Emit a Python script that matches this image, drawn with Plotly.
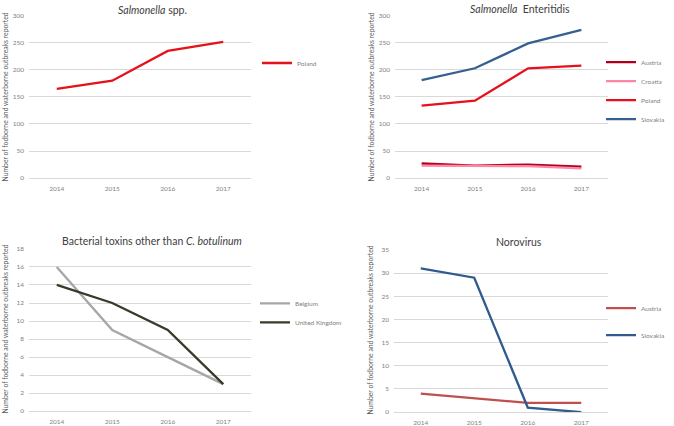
import plotly.graph_objects as go

years = ["2014", "2015", "2016", "2017"]

# Salmonella spp.
spp_poland = [165, 180, 235, 252]

# Salmonella Enteritidis
ent_austria = [27, 23, 25, 21]
ent_croatia = [23, 23, 22, 18]
ent_poland = [134, 143, 203, 208]
ent_slovakia = [181, 203, 249, 274]

# Bacterial toxins other than C. botulinum
tox_belgium = [16, 9, 6, 3]
tox_uk = [14, 12, 9, 3]

# Norovirus
noro_austria = [4, 3, 2, 2]
noro_slovakia = [31, 29, 1, 0]

titles = ["<i>Salmonella</i> spp.", "<i>Salmonella</i>  Enteritidis",
          "Bacterial toxins other than <i>C. botulinum</i>", "Norovirus"]
ytitle = "Number of fodborne and waterborne outbreaks reported"

W, H = 674, 426
FONT = "Lato, Liberation Sans, sans-serif"


def px(x):
    return x / W


def py(y):
    return 1 - y / H


fig = go.Figure()

# (axis suffix, legend name, series list)
panels = [
    ("", "legend", [("Poland", spp_poland, "#E5121B")]),
    ("2", "legend2", [("Austria", ent_austria, "#B0001E"),
                      ("Croatia", ent_croatia, "#FF85A6"),
                      ("Poland", ent_poland, "#E5121B"),
                      ("Slovakia", ent_slovakia, "#36608F")]),
    ("3", "legend3", [("Belgium", tox_belgium, "#A6A6A6"),
                      ("United Kingdom", tox_uk, "#3A3A28")]),
    ("4", "legend4", [("Austria", noro_austria, "#C0504D"),
                      ("Slovakia", noro_slovakia, "#2F5B8E")]),
]

for ax, leg, series in panels:
    for name, vals, color in series:
        fig.add_trace(go.Scatter(
            x=years, y=vals, name=name, mode="lines",
            line=dict(color=color, width=2.3),
            xaxis="x" + ax, yaxis="y" + ax, showlegend=True,
            legend=leg, legendgroup=leg + name,
        ))

# plot area boxes in pixels: (left, right, top, bottom)
boxes = [(29, 251, 12, 177), (395, 608, 12, 177),
         (29, 251, 249, 414), (394, 608, 250, 415)]
yranges = [(300, 50), (300, 50), (18, 2), (35, 5)]

tickfont = dict(family=FONT, size=6.5, color="#7F7F7F")
layout = dict(
    width=W, height=H, margin=dict(l=0, r=0, t=0, b=0),
    paper_bgcolor="white", plot_bgcolor="white",
    font=dict(family=FONT),
)
for i, ((l, r, t, b), (ymax, dt)) in enumerate(zip(boxes, yranges)):
    s = "" if i == 0 else str(i + 1)
    layout["xaxis" + s] = dict(
        domain=[px(l), px(r)], anchor="y" + s, type="category",
        range=[-0.5, 3.5], showgrid=False, showline=True,
        linecolor="#D9D9D9", linewidth=1, ticks="", tickfont=tickfont,
        ticklabelstandoff=4, fixedrange=True,
    )
    layout["yaxis" + s] = dict(
        domain=[py(b), py(t)], anchor="x" + s, range=[0, ymax], dtick=dt,
        showgrid=True, gridcolor="#D9D9D9", gridwidth=1, zeroline=False,
        showline=False, ticks="", tickfont=tickfont, ticklabelstandoff=4,
        fixedrange=True,
    )

legfont = dict(family=FONT, size=6.5, color="#7F7F7F")
leg_pos = [(257, 60, 0), (601, 88, 0), (255, 314, 0), (601, 323, 8)]
for i, (lx, ly, gap) in enumerate(leg_pos):
    s = "legend" if i == 0 else "legend" + str(i + 1)
    layout[s] = dict(
        x=px(lx), y=py(ly), xanchor="left", yanchor="middle",
        font=legfont, bgcolor="rgba(0,0,0,0)", borderwidth=0,
        tracegroupgap=gap, itemclick=False, itemdoubleclick=False,
    )

annotations = []
title_pos = [(152, 6), (520, 5), (152, 241), (519, 242)]
for text, (tx, ty) in zip(titles, title_pos):
    annotations.append(dict(
        text=text, x=px(tx), y=py(ty), xref="paper", yref="paper",
        showarrow=False, font=dict(family=FONT, size=10.5, color="#404040"),
        xanchor="center", yanchor="middle",
    ))
ytitle_pos = [(5, 95), (371, 95), (5, 331), (370, 332)]
for tx, ty in ytitle_pos:
    annotations.append(dict(
        text=ytitle, x=px(tx), y=py(ty), xref="paper", yref="paper",
        showarrow=False, textangle=-90,
        font=dict(family=FONT, size=6.8, color="#595959"),
        xanchor="center", yanchor="middle",
    ))
layout["annotations"] = annotations

fig.update_layout(**layout)
# the page's default body margin would push the chart off by 8px
fig.write_html("out.html", config={"displayModeBar": False},
               post_script="document.body.style.margin = '0';")
